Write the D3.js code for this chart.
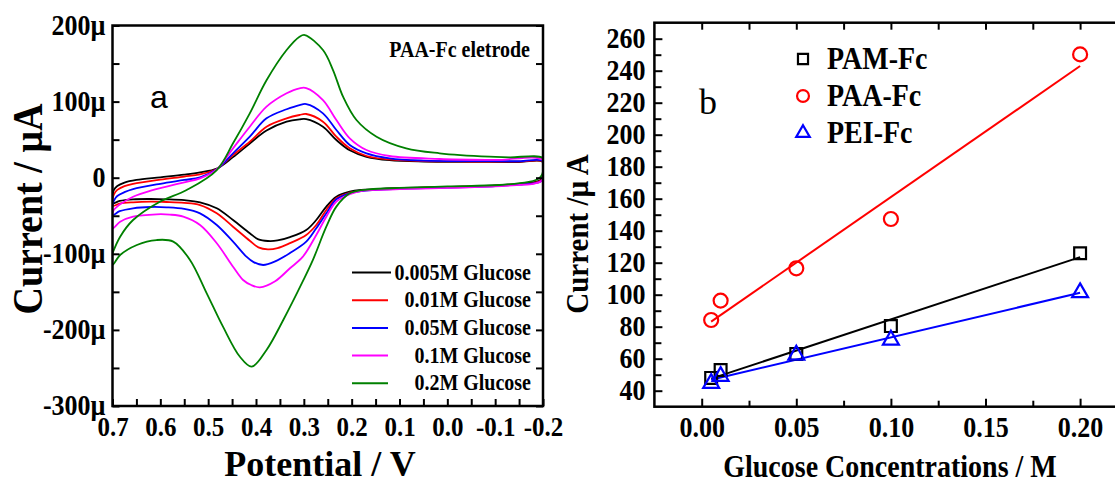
<!DOCTYPE html>
<html><head><meta charset="utf-8">
<script src="https://cdn.jsdelivr.net/npm/d3@7"></script>
<style>
body{margin:0;background:#fff}
svg{display:block}
text{font-family:"Liberation Serif","Times New Roman",serif;font-weight:bold;fill:#000}
</style>
</head><body>
<svg id="c" width="1115" height="484"></svg>
<script>
// ---------- Panel a : cyclic voltammograms ----------
const potentialTicks = [0.7, 0.6, 0.5, 0.4, 0.3, 0.2, 0.1, 0.0, -0.1, -0.2];
const potentialTickLabels = ["0.7", "0.6", "0.5", "0.4", "0.3", "0.2", "0.1", "0.0", "-0.1", "-0.2"];
const currentTicks = [200, 100, 0, -100, -200, -300];
const currentTickLabels = ["200µ", "100µ", "0", "-100µ", "-200µ", "-300µ"];
const cvNames = ["0.005M Glucose", "0.01M Glucose", "0.05M Glucose", "0.1M Glucose", "0.2M Glucose"];

// [potential V, current µA]; anodic (upper) branch 0.7 -> -0.2, then cathodic (lower) branch -0.2 -> 0.7
const cv0005Up = [[0.7,-24],[0.697,-16],[0.69,-11],[0.675,-6.5],[0.65,-3],[0.6,0.5],[0.55,4],[0.517,7],[0.482,12],[0.448,27],[0.413,45],[0.378,62],[0.336,73.6],[0.309,76.7],[0.295,77],[0.26,67],[0.232,49.5],[0.204,36],[0.169,27.5],[0.121,23],[0.05,21.2],[-0.05,20.8],[-0.15,20.6],[-0.2,20.5]];
const cv0005Down = [[-0.2,2],[-0.195,-3],[-0.18,-6],[-0.15,-8],[-0.1,-10],[0,-12],[0.1,-13.5],[0.15,-15],[0.18,-16],[0.204,-18.4],[0.232,-25],[0.253,-38],[0.274,-55.6],[0.295,-68.7],[0.329,-78],[0.355,-82.5],[0.375,-83.2],[0.395,-81],[0.413,-73],[0.448,-55.6],[0.482,-40.2],[0.517,-32.3],[0.55,-29.5],[0.587,-28.4],[0.62,-28],[0.657,-28.4],[0.685,-30.5],[0.7,-33.6]];
const cv001Up = [[0.7,-29],[0.697,-22],[0.69,-16],[0.675,-11],[0.657,-8],[0.6,-2.5],[0.55,1.5],[0.517,4.5],[0.482,11.5],[0.448,29.8],[0.413,47.3],[0.378,67],[0.336,78],[0.309,82.4],[0.295,83.7],[0.26,73.6],[0.232,53.9],[0.204,38.6],[0.169,28.5],[0.121,24],[0.05,21.8],[-0.05,21.3],[-0.15,21.1],[-0.2,21]];
const cv001Down = [[-0.2,1],[-0.195,-4],[-0.18,-7],[-0.15,-8.5],[-0.1,-10.5],[0,-12.5],[0.1,-14],[0.15,-15.5],[0.18,-17],[0.204,-19.7],[0.232,-27],[0.253,-42.4],[0.274,-62.2],[0.295,-75.3],[0.329,-86],[0.355,-92.5],[0.375,-94.1],[0.395,-91.5],[0.413,-82.8],[0.448,-64.4],[0.482,-46.8],[0.517,-35.9],[0.55,-33],[0.587,-31.9],[0.62,-31.5],[0.657,-32.3],[0.685,-34],[0.7,-37]];
const cv005Up = [[0.7,-37],[0.697,-30],[0.69,-24],[0.675,-19],[0.657,-15],[0.6,-8],[0.55,-3],[0.517,0.5],[0.482,11],[0.448,32],[0.413,53.9],[0.378,78],[0.336,89.9],[0.309,95.5],[0.295,96.8],[0.26,84.6],[0.232,62.7],[0.204,43],[0.169,32],[0.121,25.5],[0.05,22.5],[-0.05,21.8],[-0.15,21.6],[-0.2,21.5]];
const cv005Down = [[-0.2,0],[-0.195,-5],[-0.18,-7.5],[-0.15,-9],[-0.1,-11],[0,-13],[0.1,-14.5],[0.15,-16],[0.18,-17.5],[0.204,-20.5],[0.232,-28.4],[0.253,-46.8],[0.274,-66.5],[0.295,-84.1],[0.329,-99],[0.36,-110],[0.385,-114.7],[0.405,-111],[0.42,-103.8],[0.448,-84.1],[0.482,-62.2],[0.517,-46.8],[0.55,-41],[0.587,-38.9],[0.62,-38.5],[0.657,-40.2],[0.685,-44],[0.7,-49]];
const cv01Up = [[0.7,-47],[0.697,-42],[0.69,-38],[0.684,-35],[0.657,-25],[0.62,-17],[0.587,-11.8],[0.55,-6],[0.517,-0.8],[0.482,11],[0.448,38.6],[0.413,67],[0.378,93.3],[0.336,110.9],[0.309,117.5],[0.295,117.8],[0.26,102],[0.232,75.8],[0.204,51.8],[0.169,36.4],[0.121,28.5],[0.016,24.6],[-0.1,23.3],[-0.2,23]];
const cv01Down = [[-0.2,0],[-0.195,-5],[-0.18,-8],[-0.15,-9.5],[-0.1,-11.5],[0,-13.5],[0.1,-15],[0.15,-16],[0.176,-17],[0.204,-21.8],[0.232,-31.5],[0.253,-51.2],[0.274,-75.3],[0.302,-103.8],[0.329,-119],[0.36,-136],[0.392,-144],[0.41,-141],[0.427,-134.4],[0.448,-117],[0.482,-86.2],[0.517,-62.2],[0.552,-51.2],[0.58,-48.5],[0.608,-48.1],[0.657,-51.2],[0.684,-57.8],[0.7,-66.5]];
const cv02Up = [[0.7,-99.3],[0.684,-77.5],[0.657,-55.6],[0.601,-31.5],[0.545,-16.2],[0.482,10.1],[0.448,45.2],[0.413,84.6],[0.378,128],[0.336,167.8],[0.309,185.3],[0.298,187.5],[0.26,167.8],[0.239,141.5],[0.218,106.4],[0.19,75.8],[0.148,53.9],[0.086,38.6],[0.016,32.1],[-0.088,27.6],[-0.13,26.8],[-0.2,25.5]];
const cv02Down = [[-0.2,8],[-0.195,1],[-0.185,-3],[-0.17,-5.5],[-0.109,-9.6],[0,-11.5],[0.1,-13.5],[0.162,-15.3],[0.19,-17.5],[0.204,-20.5],[0.232,-38],[0.253,-64.4],[0.281,-108],[0.302,-136],[0.343,-187],[0.378,-226.4],[0.409,-248.3],[0.434,-235],[0.469,-195.8],[0.503,-151.9],[0.538,-108],[0.573,-84],[0.608,-81.9],[0.649,-88.4],[0.684,-101.6],[0.7,-114.7]];

// ---------- Panel b : calibration ----------
const concentrations = [0.005, 0.01, 0.05, 0.1, 0.2];
const pamFc = [48, 52.9, 63, 80.4, 125.9];
const paaFc = [84.2, 96.3, 116.5, 147.3, 250.2];
const peiFc = [44.6, 49, 62.3, 71.7, 101.3];
const concTicks = [0, 0.05, 0.10, 0.15, 0.20];
const concTickLabels = ["0.00", "0.05", "0.10", "0.15", "0.20"];
const respTicks = [40, 60, 80, 100, 120, 140, 160, 180, 200, 220, 240, 260];
const respTickLabels = ["40", "60", "80", "100", "120", "140", "160", "180", "200", "220", "240", "260"];
const seriesNames = ["PAM-Fc", "PAA-Fc", "PEI-Fc"];

const SY = 1.12; // vertical stretch of the condensed serif lettering
const svg = d3.select("#c");
svg.append("rect").attr("width", 1115).attr("height", 484).attr("fill", "#fff");

function styleAxis(g) {
  g.select(".domain").remove();
  g.selectAll(".tick line").attr("stroke", "#000").attr("stroke-width", 2);
}
function label(x, y, txt, size, anchor, rotate, sy) {
  const s = sy === undefined ? SY : sy;
  return svg.append("text")
    .attr("transform", `translate(${x},${y})` + (rotate ? ` rotate(${rotate})` : "") + ` scale(1,${s})`)
    .attr("text-anchor", anchor || "start").style("font-size", size + "px").text(txt);
}
function tickText(sel, size, yPos, dy) {
  sel.attr("dy", dy).attr("transform", `scale(1,${SY})`)
    .style("font-size", size + "px").style("font-family", "Liberation Serif")
    .style("font-weight", "bold").style("fill", "#000");
  if (yPos !== null) sel.attr("y", yPos / SY);
}

// ===== Panel a =====
const xA = d3.scaleLinear().domain([0.7, -0.2]).range([112.5, 543]);
const yA = d3.scaleLinear().domain([-300, 200]).range([406, 25.5]);

svg.append("defs").append("clipPath").attr("id", "clipA")
  .append("rect").attr("x", 112.5).attr("y", 25.5).attr("width", 430.5).attr("height", 380.5);

const cvColors = ["#000000", "#ff0000", "#0000ff", "#ff00ff", "#008000"];
const cvData = [
  cv0005Up.concat(cv0005Down), cv001Up.concat(cv001Down), cv005Up.concat(cv005Down),
  cv01Up.concat(cv01Down), cv02Up.concat(cv02Down)
];
const cvLine = d3.line().x(d => xA(d[0])).y(d => yA(d[1])).curve(d3.curveCatmullRom.alpha(0.5));
const gCurves = svg.append("g").attr("clip-path", "url(#clipA)");
cvData.forEach((pts, i) => {
  gCurves.append("path").attr("d", cvLine(pts.concat([pts[0]])))
    .attr("fill", "none").attr("stroke", cvColors[i]).attr("stroke-width", 1.8);
});

const potMinor = d3.range(19).map(i => +(0.7 - i * 0.05).toFixed(2));
const gxA = svg.append("g").attr("transform", "translate(0,406)")
  .call(d3.axisBottom(xA).tickValues(potMinor).tickSize(-7).tickFormat(""));
styleAxis(gxA);
const gxA2 = svg.append("g").attr("transform", "translate(0,406)")
  .call(d3.axisBottom(xA).tickValues(potentialTicks).tickSize(0)
    .tickFormat((d, i) => potentialTickLabels[i]));
styleAxis(gxA2);
tickText(gxA2.selectAll("text"), 25, 30, null);

const curMinor = d3.range(11).map(i => 200 - i * 50);
const gyA = svg.append("g").attr("transform", "translate(112.5,0)")
  .call(d3.axisLeft(yA).tickValues(curMinor).tickSize(-7).tickFormat(""));
styleAxis(gyA);
const gyAr = svg.append("g").attr("transform", "translate(543,0)")
  .call(d3.axisRight(yA).tickValues(curMinor).tickSize(-7).tickFormat(""));
styleAxis(gyAr);
const gyA2 = svg.append("g").attr("transform", "translate(112.5,0)")
  .call(d3.axisLeft(yA).tickValues(currentTicks).tickSize(0)
    .tickFormat((d, i) => currentTickLabels[i]));
styleAxis(gyA2);
gyA2.selectAll("text").attr("x", -7);
tickText(gyA2.selectAll("text"), 26, null, "0.3em");

svg.append("rect").attr("x", 112.5).attr("y", 25.5).attr("width", 430.5).attr("height", 380.5)
  .attr("fill", "none").attr("stroke", "#000").attr("stroke-width", 2.5);

label(320, 476, "Potential / V", 36, "middle", null, 1);
label(42, 209, "Current / µA", 38, "middle", -90);
label(530, 57, "PAA-Fc eletrode", 20, "end");
svg.append("text").attr("x", 150).attr("y", 108)
  .style("font-family", "'Liberation Sans', Arial, sans-serif").style("font-weight", "normal")
  .style("font-size", "32px").text("a");

cvNames.forEach((name, i) => {
  const y = 272.5 + i * 27.7;
  svg.append("line").attr("x1", 352).attr("x2", i === 0 ? 391 : 388).attr("y1", y).attr("y2", y)
    .attr("stroke", cvColors[i]).attr("stroke-width", 2);
  label(531, y + 7, name, 20, "end");
});

// ===== Panel b =====
const xB = d3.scaleLinear().domain([-0.025, 0.225]).range([654.4, 1127.4]);
const yB = d3.scaleLinear().domain([30, 270]).range([406.7, 22.7]);

const concMinor = d3.range(10).map(i => +(-0.025 + i * 0.025).toFixed(3)).filter(v => v > -0.02);
const concMinorOnly = concMinor.filter(v => !concTicks.some(t => Math.abs(t - v) < 1e-6));
const gxB = svg.append("g").attr("transform", "translate(0,406.7)")
  .call(d3.axisBottom(xB).tickValues(concMinorOnly).tickSize(-6).tickFormat(""));
styleAxis(gxB);
const gxB2 = svg.append("g").attr("transform", "translate(0,406.7)")
  .call(d3.axisBottom(xB).tickValues(concTicks).tickSize(-8).tickFormat((d, i) => concTickLabels[i]));
styleAxis(gxB2);
tickText(gxB2.selectAll("text"), 26, 30, null);
const gxBt = svg.append("g").attr("transform", "translate(0,22.7)")
  .call(d3.axisTop(xB).tickValues(concMinor).tickSize(-7).tickFormat(""));
styleAxis(gxBt);

const respMinor = d3.range(24).map(i => 40 + i * 10).filter(v => v < 270 && v % 20 !== 0);
const gyB = svg.append("g").attr("transform", "translate(654.4,0)")
  .call(d3.axisLeft(yB).tickValues(respMinor).tickSize(-7).tickFormat(""));
styleAxis(gyB);
const gyB2 = svg.append("g").attr("transform", "translate(654.4,0)")
  .call(d3.axisLeft(yB).tickValues(respTicks).tickSize(-8).tickFormat((d, i) => respTickLabels[i]));
styleAxis(gyB2);
gyB2.selectAll("text").attr("x", -9);
tickText(gyB2.selectAll("text"), 26, null, "0.3em");

svg.append("rect").attr("x", 654.4).attr("y", 22.7).attr("width", 473).attr("height", 384)
  .attr("fill", "none").attr("stroke", "#000").attr("stroke-width", 2.5);

function fit(xs, ys) {
  const mx = d3.mean(xs), my = d3.mean(ys);
  const b = d3.sum(xs, (x, i) => (x - mx) * (ys[i] - my)) / d3.sum(xs, x => (x - mx) * (x - mx));
  return [b, my - b * mx];
}
const seriesB = [
  { ys: pamFc, color: "#000000", shape: "square" },
  { ys: paaFc, color: "#ff0000", shape: "circle" },
  { ys: peiFc, color: "#0000ff", shape: "triangle" }
];
const fitLine = d3.line().x(d => xB(d[0])).y(d => yB(d[1]));
seriesB.forEach(s => {
  const [b, a] = fit(concentrations, s.ys);
  const x0 = concentrations[0], x1 = concentrations[concentrations.length - 1];
  svg.append("path").attr("d", fitLine([[x0, a + b * x0], [x1, a + b * x1]]))
    .attr("stroke", s.color).attr("stroke-width", 2).attr("fill", "none");
});
function marker(g, shape, x, y, color, scale) {
  if (shape === "circle") {
    g.append("circle").attr("cx", x).attr("cy", y).attr("r", 7 * scale)
      .attr("fill", "none").attr("stroke", color).attr("stroke-width", 2.2);
  } else {
    const sym = shape === "square" ? d3.symbol(d3.symbolSquare, 140 * scale * scale)
                                   : d3.symbol(d3.symbolTriangle, 110 * scale * scale);
    g.append("path").attr("d", sym()).attr("transform", `translate(${x},${y})`)
      .attr("fill", "none").attr("stroke", color).attr("stroke-width", 2.2);
  }
}
seriesB.forEach(s => {
  s.ys.forEach((v, i) => marker(svg, s.shape, xB(concentrations[i]), yB(v), s.color, 1));
});

seriesNames.forEach((name, i) => {
  const y = 59 + i * 37;
  marker(svg, seriesB[i].shape, 803, y, seriesB[i].color, 0.85);
  label(827, y + 10, name, 28, "start");
});

label(890, 477, "Glucose Concentrations / M", 28, "middle");
label(588, 234, "Current /µ A", 29, "middle", -90);
svg.append("text").attr("x", 699).attr("y", 114)
  .style("font-family", "'Liberation Serif', serif").style("font-weight", "normal")
  .style("font-size", "36px").text("b");
</script>
</body></html>
